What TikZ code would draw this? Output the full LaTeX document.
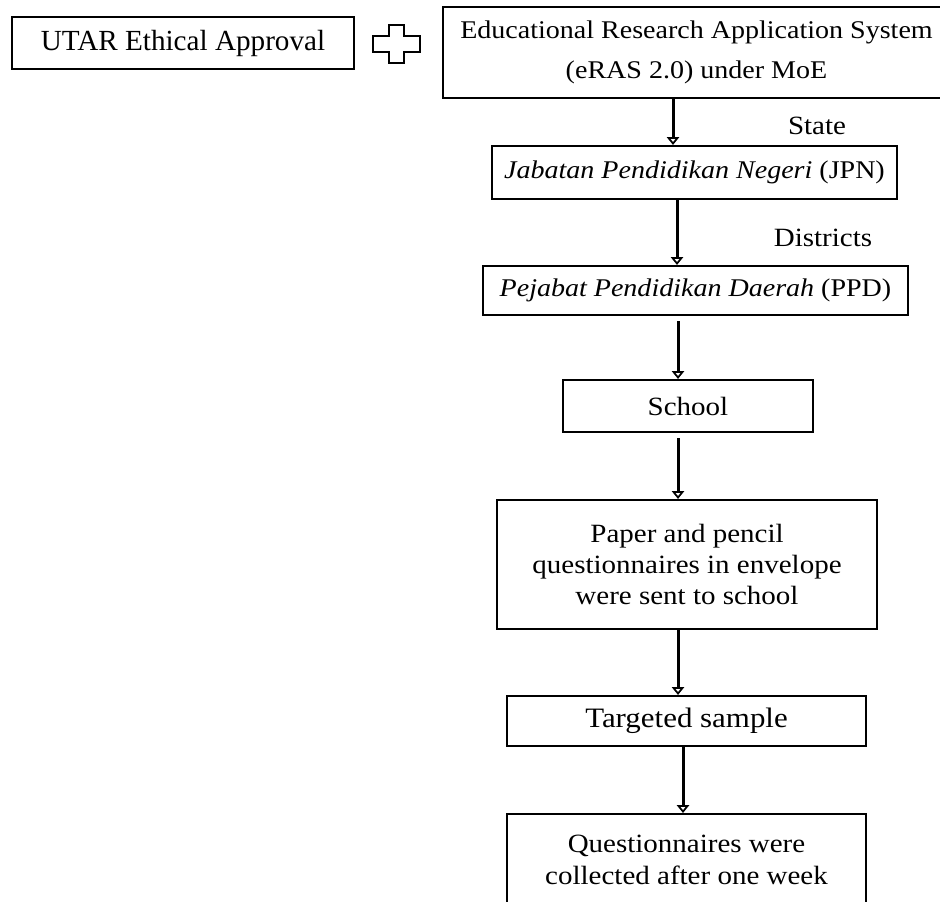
\documentclass[tikz,border=0pt]{standalone}
\usepackage{fontspec}
\setmainfont{Liberation Serif}
\newfontfamily\palfont[FakeStretch=1.1]{Liberation Serif}
\usetikzlibrary{arrows.meta}

\begin{document}
\begin{tikzpicture}[font=\palfont\fontsize{15}{17.5}\selectfont,
  box/.style={draw, line width=1.2pt, inner sep=0pt, align=center},
  arr/.style={line width=1.7pt, -{Triangle[open,length=4.5pt,width=7pt,line width=1pt]}}]

\clip (0,0) rectangle (18.8,-18.02);

\begin{scope}
\coordinate (P) at (7.93,-0.88);
\coordinate (x1) at (13.46,0);
\coordinate (x2) at (13.54,0);
\coordinate (x3) at (13.56,0);
\coordinate (x4) at (13.66,0);

\node[box, minimum width=6.84cm, minimum height=1.04cm, font=\fontsize{16.6}{19}\selectfont] (utar) at (3.66,-0.86) {UTAR Ethical Approval};
\node[box, minimum width=10.14cm, minimum height=1.82cm, font=\palfont\fontsize{14.5}{22.7}\selectfont] (eras) at (13.93,-1.05) {Educational Research Application System\\(eRAS 2.0) under MoE};
\node[box, minimum width=8.1cm, minimum height=1.06cm, font=\palfont\fontsize{14.5}{17}\selectfont] (jpn) at (13.89,-3.45) {\textit{Jabatan Pendidikan Negeri} (JPN)};
\node[box, minimum width=8.5cm, minimum height=0.98cm, font=\palfont\fontsize{14.5}{17}\selectfont] (ppd) at (13.91,-5.81) {\textit{Pejabat Pendidikan Daerah} (PPD)};
\node[box, minimum width=5cm, minimum height=1.04cm] (school) at (13.76,-8.12) {School};
\node[box, minimum width=7.6cm, minimum height=2.58cm] (paper) at (13.74,-11.29) {Paper and pencil\\questionnaires in envelope\\were sent to school};
\node[box, minimum width=7.18cm, minimum height=1cm, font=\palfont\fontsize{16}{18}\selectfont] (target) at (13.73,-14.42) {Targeted sample};
\node[box, anchor=north, minimum width=7.18cm, minimum height=3cm] (quest) at (13.73,-16.26) {};
\node[align=center, font=\palfont\fontsize{15}{18}\selectfont] (questtext) at (13.73,-17.2) {Questionnaires were\\collected after one week};

\node (state) at (16.34,-2.52) {State};
\node (districts) at (16.46,-4.76) {Districts};

% plus sign between the two approvals
\draw[line width=1.2pt] (P) ++(-0.15,0.38) -- ++(0.30,0) -- ++(0,-0.22) -- ++(0.32,0) -- ++(0,-0.32) -- ++(-0.32,0) -- ++(0,-0.22) -- ++(-0.30,0) -- ++(0,0.22) -- ++(-0.32,0) -- ++(0,0.32) -- ++(0.32,0) -- cycle;

\draw[arr] (eras.south -| x1) -- (jpn.north -| x1);
\draw[arr] (jpn.south -| x2) -- (ppd.north -| x2);
\draw[arr, shorten <=0.1cm] (ppd.south -| x3) -- (school.north -| x3);
\draw[arr, shorten <=0.1cm] (school.south -| x3) -- (paper.north -| x3);
\draw[arr] (paper.south -| x3) -- (target.north -| x3);
\draw[arr] (target.south -| x4) -- (quest.north -| x4);
\end{scope}

\end{tikzpicture}
\end{document}
